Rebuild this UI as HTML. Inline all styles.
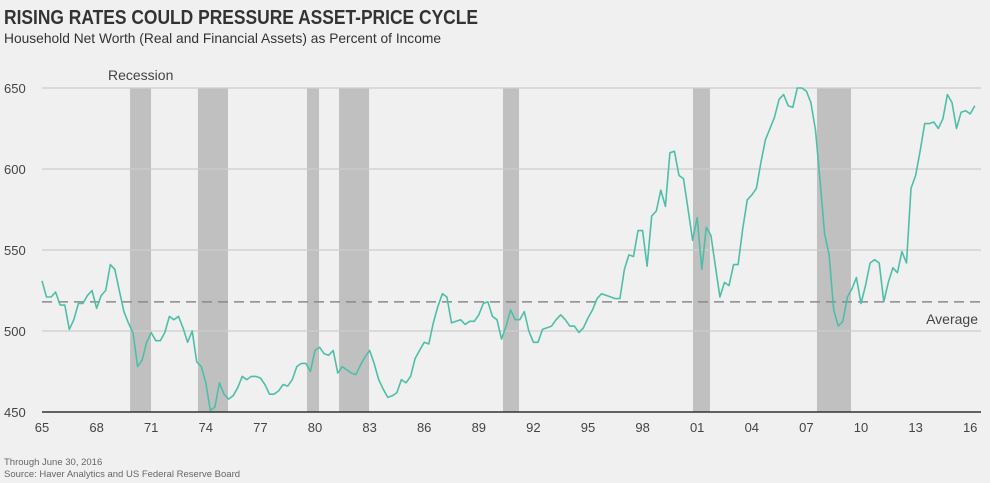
<!DOCTYPE html>
<html><head><meta charset="utf-8"><style>
body{margin:0;background:#f0f0f0;font-family:"Liberation Sans",sans-serif;}
#wrap{position:relative;width:990px;height:483px;overflow:hidden;background:#f0f0f0;}
svg text{font-family:"Liberation Sans",sans-serif;}
</style></head><body>
<div id="wrap">
<svg id="chart" width="990" height="483">
<text x="4" y="24" font-size="20" font-weight="bold" fill="#333" textLength="474" lengthAdjust="spacingAndGlyphs">RISING RATES COULD PRESSURE ASSET-PRICE CYCLE</text>
<text x="4" y="43" font-size="14" fill="#333" textLength="437" lengthAdjust="spacingAndGlyphs">Household Net Worth (Real and Financial Assets) as Percent of Income</text>
<text x="4" y="465" font-size="9.5" fill="#666">Through June 30, 2016</text>
<text x="4" y="477" font-size="9.5" fill="#666">Source: Haver Analytics and US Federal Reserve Board</text>
<g id="bands"></g><g id="grid"></g><g id="avg"></g><g id="series"></g><g id="axes"></g>
</svg></div>
<script>
const recessionStarts=[1969.84,1973.57,1979.56,1981.32,1990.33,2000.77,2007.58];
const recessionEnds=[1970.99,1975.22,1980.22,1982.97,1991.21,2001.70,2009.45];
const yTicks=[450,500,550,600,650];
const xTickYears=[1965,1968,1971,1974,1977,1980,1983,1986,1989,1992,1995,1998,2001,2004,2007,2010,2013,2016];
const xTickLabels=["65","68","71","74","77","80","83","86","89","92","95","98","01","04","07","10","13","16"];
const averageValue=518;
const startYear=1965;
const netWorth=[531,521,521,524,516,516,501,507,517,517,522,525,514,522,525,541,538,525,512,505,499,478,482,493,499,494,494,499,509,507,509,502,493,500,481,478,468,451,453,468,461,458,460,465,472,470,472,472,471,467,461,461,463,467,466,470,478,480,480,475,488,490,486,485,488,474,478,476,474,473,479,484,
488,480,470,464,459,460,462,470,468,472,483,488,493,492,505,515,523,521,505,506,507,504,506,506,510,517,518,509,507,495,503,513,507,507,512,500,493,493,501,502,503,507,510,507,503,503,499,502,508,513,520,523,522,521,520,520,
538,547,546,562,562,540,571,574,587,577,610,611,596,594,575,556,570,538,564,559,540,521,530,528,541,541,563,581,584,588,604,618,625,632,643,646,639,638,650,650,648,641,624,593,560,547,513,503,506,521,526,533,517,528,542,544,542,518,530,539,536,549,542,588,596,611,628,628,629,625,631,646,641,625,635,636,634,639];

const NS="http://www.w3.org/2000/svg";
const X0=42,PXY=18.2,PLOT_R=981;
function xs(yr){return X0+(yr-1965)*PXY;}
function ys(v){return 412-(v-450)*1.62;}
function mk(tag,attrs,parent){const e=document.createElementNS(NS,tag);for(const k in attrs)e.setAttribute(k,attrs[k]);document.getElementById(parent).appendChild(e);return e;}

recessionStarts.forEach((s,i)=>{
 const r=mk('rect',{x:xs(s),y:ys(650),width:xs(recessionEnds[i])-xs(s),height:ys(450)-ys(650),fill:'#c0c0c0'},'bands');
 
 
});
const rl=mk('text',{x:108,y:80,'font-size':14,fill:'#444'},'bands');rl.textContent='Recession';



yTicks.forEach(v=>{
 if(v>450){const l=mk('line',{x1:X0,x2:PLOT_R,y1:ys(v),y2:ys(v),stroke:'#cccccc','stroke-width':1.2},'grid');
 
 }
 const t=mk('text',{x:4,y:ys(v)+5,'font-size':13,fill:'#444'},'axes');t.textContent=v;
 
 
});
const ax=mk('line',{x1:X0,x2:PLOT_R,y1:ys(450),y2:ys(450),stroke:'#333','stroke-width':1.5},'axes');


xTickYears.forEach((y,i)=>{
 const t=mk('text',{x:xs(y),y:432,'font-size':13,fill:'#444','text-anchor':'middle'},'axes');t.textContent=xTickLabels[i];
 
 
});
const av=mk('line',{x1:X0,x2:PLOT_R,y1:ys(averageValue),y2:ys(averageValue),stroke:'#8a8a8a','stroke-width':1.5,'stroke-dasharray':'10,6'},'avg');


const at=mk('text',{x:978,y:ys(averageValue)+22,'font-size':14,fill:'#444','text-anchor':'end'},'avg');at.textContent='Average';



const pts=netWorth.map((v,i)=>xs(startYear+i/4).toFixed(1)+','+ys(v).toFixed(1)).join(' ');
const pl=mk('polyline',{points:pts,fill:'none',stroke:'#4dbfa9','stroke-width':1.6,'stroke-linejoin':'round'},'series');


</script>
</body></html>
